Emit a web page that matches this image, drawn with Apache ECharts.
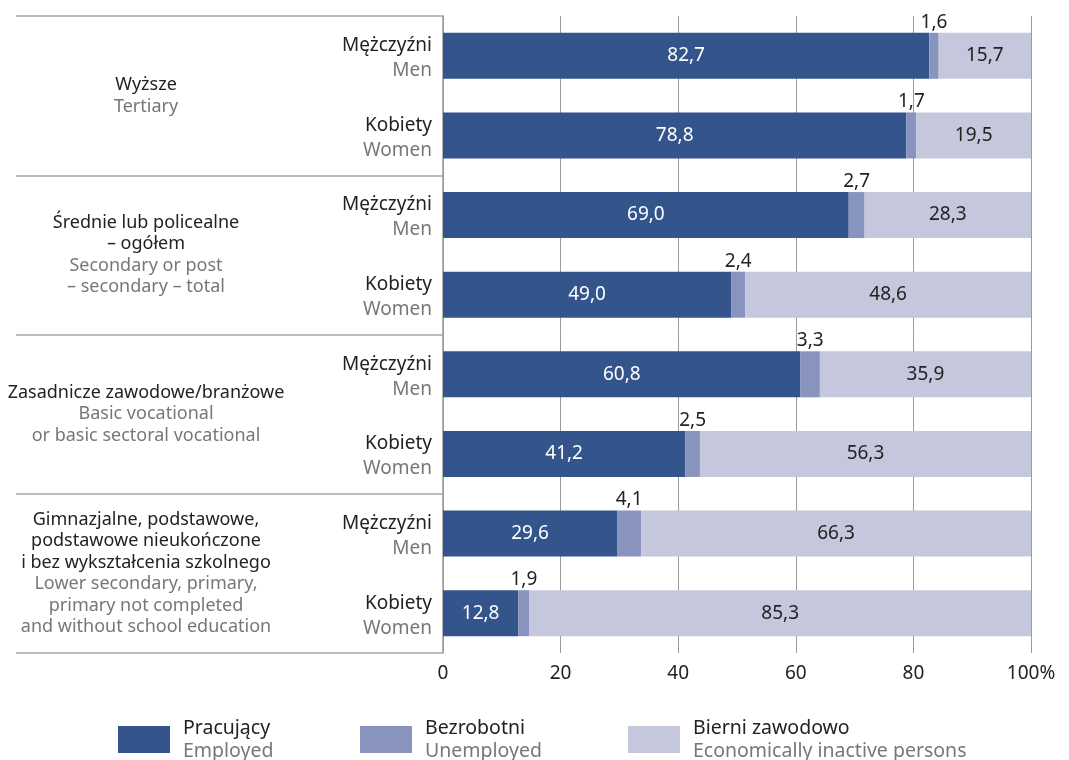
<!DOCTYPE html>
<html>
<head>
<meta charset="utf-8">
<script src="https://cdn.jsdelivr.net/npm/echarts@6/dist/echarts.min.js"></script>
<style>
  html, body { margin: 0; padding: 0; background: #fff; }
  #chart { width: 1069px; height: 760px; }
</style>
</head>
<body>
<div id="chart"></div>
<script>
// rows (top to bottom)
const rowPl = ['Mężczyźni', 'Kobiety', 'Mężczyźni', 'Kobiety', 'Mężczyźni', 'Kobiety', 'Mężczyźni', 'Kobiety']
const rowEn = ['Men', 'Women', 'Men', 'Women', 'Men', 'Women', 'Men', 'Women']

// education groups (2 rows each)
const groupPl = [
  'Wyższe',
  'Średnie lub policealne\n– ogółem',
  'Zasadnicze zawodowe/branżowe',
  'Gimnazjalne, podstawowe,\npodstawowe nieukończone\ni bez wykształcenia szkolnego'
]
const groupEn = [
  'Tertiary',
  'Secondary or post\n– secondary – total',
  'Basic vocational\nor basic sectoral vocational',
  'Lower secondary, primary,\nprimary not completed\nand without school education'
]

// series
const seriesPl = ['Pracujący', 'Bezrobotni', 'Bierni zawodowo']
const seriesEn = ['Employed', 'Unemployed', 'Economically inactive persons']
const employed = [82.7, 78.8, 69.0, 49.0, 60.8, 41.2, 29.6, 12.8]
const unemployed = [1.6, 1.7, 2.7, 2.4, 3.3, 2.5, 4.1, 1.9]
const inactive = [15.7, 19.5, 28.3, 48.6, 35.9, 56.3, 66.3, 85.3]

const xTicks = [0, 20, 40, 60, 80, 100]

const colors = ['#33558c', '#8894bd', '#c5c7dc']
const FONT = 'Noto Sans'
const dark = '#222'
const grey = '#777'

const fmt = v => v.toFixed(1).replace('.', ',')

const chart = echarts.init(document.getElementById('chart'))

const legendLeft = [118, 360, 628]

const option = {
  animation: false,
  textStyle: { fontFamily: FONT },
  grid: { left: 443, right: 38, top: 16, bottom: 107 },
  xAxis: {
    type: 'value',
    min: xTicks[0],
    max: xTicks[xTicks.length - 1],
    interval: 20,
    axisLine: { show: false },
    axisTick: { show: false },
    splitLine: { lineStyle: { color: '#9a9a9a', width: 1 } },
    axisLabel: {
      margin: 11,
      fontSize: 19,
      color: dark,
      fontFamily: FONT,
      formatter: v => (v === 100 ? '100%' : String(v))
    }
  },
  yAxis: [
    {
      type: 'category',
      inverse: true,
      data: rowPl.map((_, i) => String(i)),
      axisLine: { show: true, lineStyle: { color: '#9a9a9a', width: 1.5 } },
      axisTick: { show: false },
      axisLabel: {
        interval: 0,
        margin: 11,
        align: 'right',
        padding: [5, 0, 0, 0],
        formatter: (v, i) => `{a|${rowPl[i]}}\n{b|${rowEn[i]}}`,
        rich: {
          a: { fontSize: 19, color: dark, lineHeight: 25, align: 'right', fontFamily: FONT },
          b: { fontSize: 19, color: grey, lineHeight: 25, align: 'right', fontFamily: FONT }
        }
      }
    },
    {
      type: 'category',
      inverse: true,
      position: 'left',
      data: groupPl.map((_, i) => String(i)),
      axisLine: { show: false },
      axisTick: { show: true, length: 427, lineStyle: { color: '#a8a8a8', width: 1.5 } },
      axisLabel: {
        interval: 0,
        margin: 297,
        align: 'center',
        formatter: (v, i) => `{a|${groupPl[i]}}\n{b|${groupEn[i]}}`,
        rich: {
          a: { fontSize: 18, color: dark, lineHeight: 21.5, align: 'center', fontFamily: FONT },
          b: { fontSize: 18, color: grey, lineHeight: 21.5, align: 'center', fontFamily: FONT }
        }
      }
    }
  ],
  legend: seriesPl.map((name, i) => ({
    data: [{ name, icon: 'rect' }],
    left: legendLeft[i],
    top: 718,
    padding: 0,
    itemWidth: 52,
    itemHeight: 27,
    selectedMode: false,
    formatter: n => `{a|${n}}\n{b|${seriesEn[seriesPl.indexOf(n)]}}`,
    textStyle: {
      padding: [0, 0, 0, 8],
      rich: {
        a: { fontSize: 19.5, color: dark, lineHeight: 23, fontFamily: FONT },
        b: { fontSize: 19.5, color: grey, lineHeight: 23, fontFamily: FONT }
      }
    }
  })),
  series: [
    {
      name: seriesPl[0],
      type: 'bar',
      stack: 'total',
      barWidth: 46,
      data: employed,
      itemStyle: { color: colors[0] },
      label: {
        show: true,
        position: 'inside',
        color: '#fff',
        fontSize: 19,
        fontFamily: FONT,
        formatter: p => fmt(p.value)
      }
    },
    {
      name: seriesPl[1],
      type: 'bar',
      stack: 'total',
      barWidth: 46,
      data: unemployed,
      itemStyle: { color: colors[1] },
      label: {
        show: true,
        position: 'top',
        distance: 1,
        color: dark,
        fontSize: 19,
        fontFamily: FONT,
        formatter: p => fmt(p.value)
      }
    },
    {
      name: seriesPl[2],
      type: 'bar',
      stack: 'total',
      barWidth: 46,
      data: inactive,
      itemStyle: { color: colors[2] },
      label: {
        show: true,
        position: 'inside',
        color: dark,
        fontSize: 19,
        fontFamily: FONT,
        formatter: p => fmt(p.value)
      }
    }
  ]
}

chart.setOption(option)
</script>
</body>
</html>
